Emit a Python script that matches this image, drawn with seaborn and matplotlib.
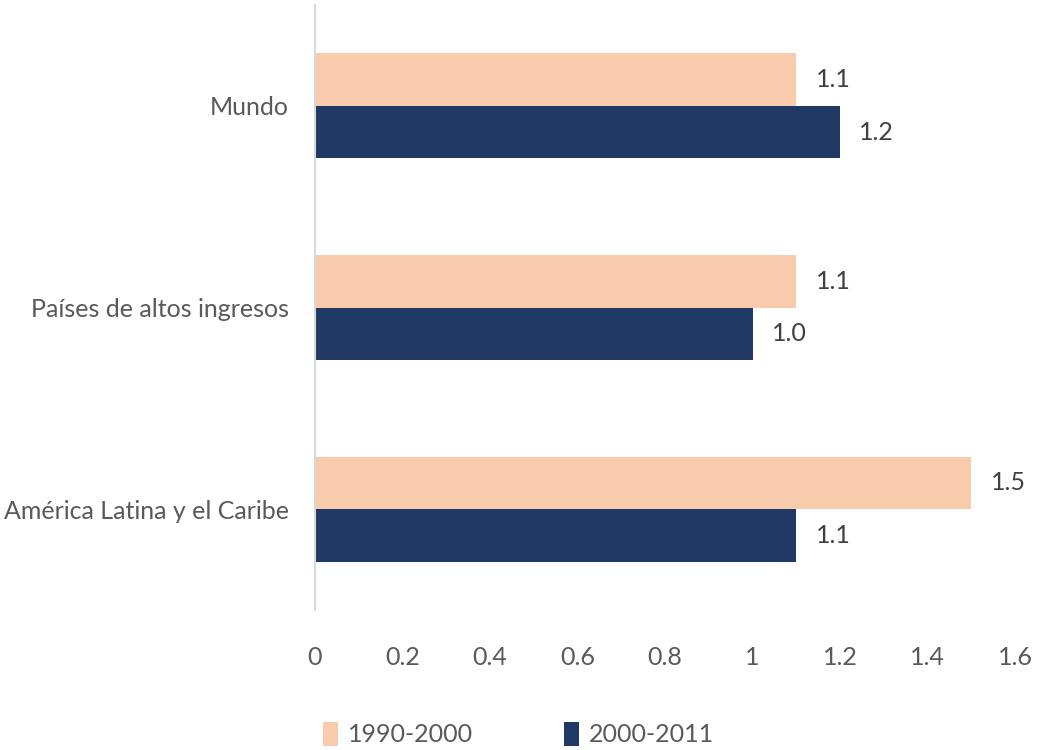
import matplotlib
matplotlib.use("Agg")
import matplotlib.pyplot as plt
import seaborn as sns
import pandas as pd
from matplotlib.patches import Patch

categories = ["Mundo", "Países de altos ingresos", "América Latina y el Caribe"]
series_names = ["1990-2000", "2000-2011"]
values_1990_2000 = [1.1, 1.1, 1.5]
values_2000_2011 = [1.2, 1.0, 1.1]
x_ticks = [0, 0.2, 0.4, 0.6, 0.8, 1, 1.2, 1.4, 1.6]
x_tick_labels = ["0", "0.2", "0.4", "0.6", "0.8", "1", "1.2", "1.4", "1.6"]
colors = ["#F8CBAD", "#203864"]

rows = []
for c, v in zip(categories, values_1990_2000):
    rows.append({"cat": c, "serie": series_names[0], "val": v})
for c, v in zip(categories, values_2000_2011):
    rows.append({"cat": c, "serie": series_names[1], "val": v})
df = pd.DataFrame(rows)

sns.set_theme(style="white")
plt.rcParams["font.family"] = ["Lato", "DejaVu Sans"]

fig = plt.figure(figsize=(10.37, 7.5), dpi=100)
ax = fig.add_axes([315/1037, 1-610/750, 700/1037, 605/750])

sns.barplot(data=df, y="cat", x="val", hue="serie", order=categories,
            hue_order=series_names, palette=colors, width=0.52, gap=0,
            orient="h", ax=ax, legend=False, saturation=1, linewidth=0)

ax.set_xlim(0, 1.6)
ax.set_ylim(2.5, -0.5)
ax.set_xticks(x_ticks)
ax.set_xticklabels(x_tick_labels)
ax.set_xlabel("")
ax.set_ylabel("")
for s in ["top", "right", "bottom"]:
    ax.spines[s].set_visible(False)
ax.spines["left"].set_color("#D9D9D9")
ax.spines["left"].set_linewidth(1.5)
ax.tick_params(axis="both", length=0, labelsize=18, colors="#595959")
ax.tick_params(axis="x", pad=26)
ax.tick_params(axis="y", pad=19)

for cont in ax.containers:
    ax.bar_label(cont, fmt="%.1f", padding=14, fontsize=18, color="#404040")

handles = [Patch(facecolor=colors[0], edgecolor="none"),
           Patch(facecolor=colors[1], edgecolor="none")]
fig.legend(handles, series_names, loc="center", bbox_to_anchor=(0.5, 1-734/750),
           ncol=2, frameon=False, fontsize=18, handlelength=0.6, handleheight=1.1,
           handletextpad=0.4, columnspacing=3.6, labelcolor="#595959")

fig.savefig("out.png", dpi=100)
